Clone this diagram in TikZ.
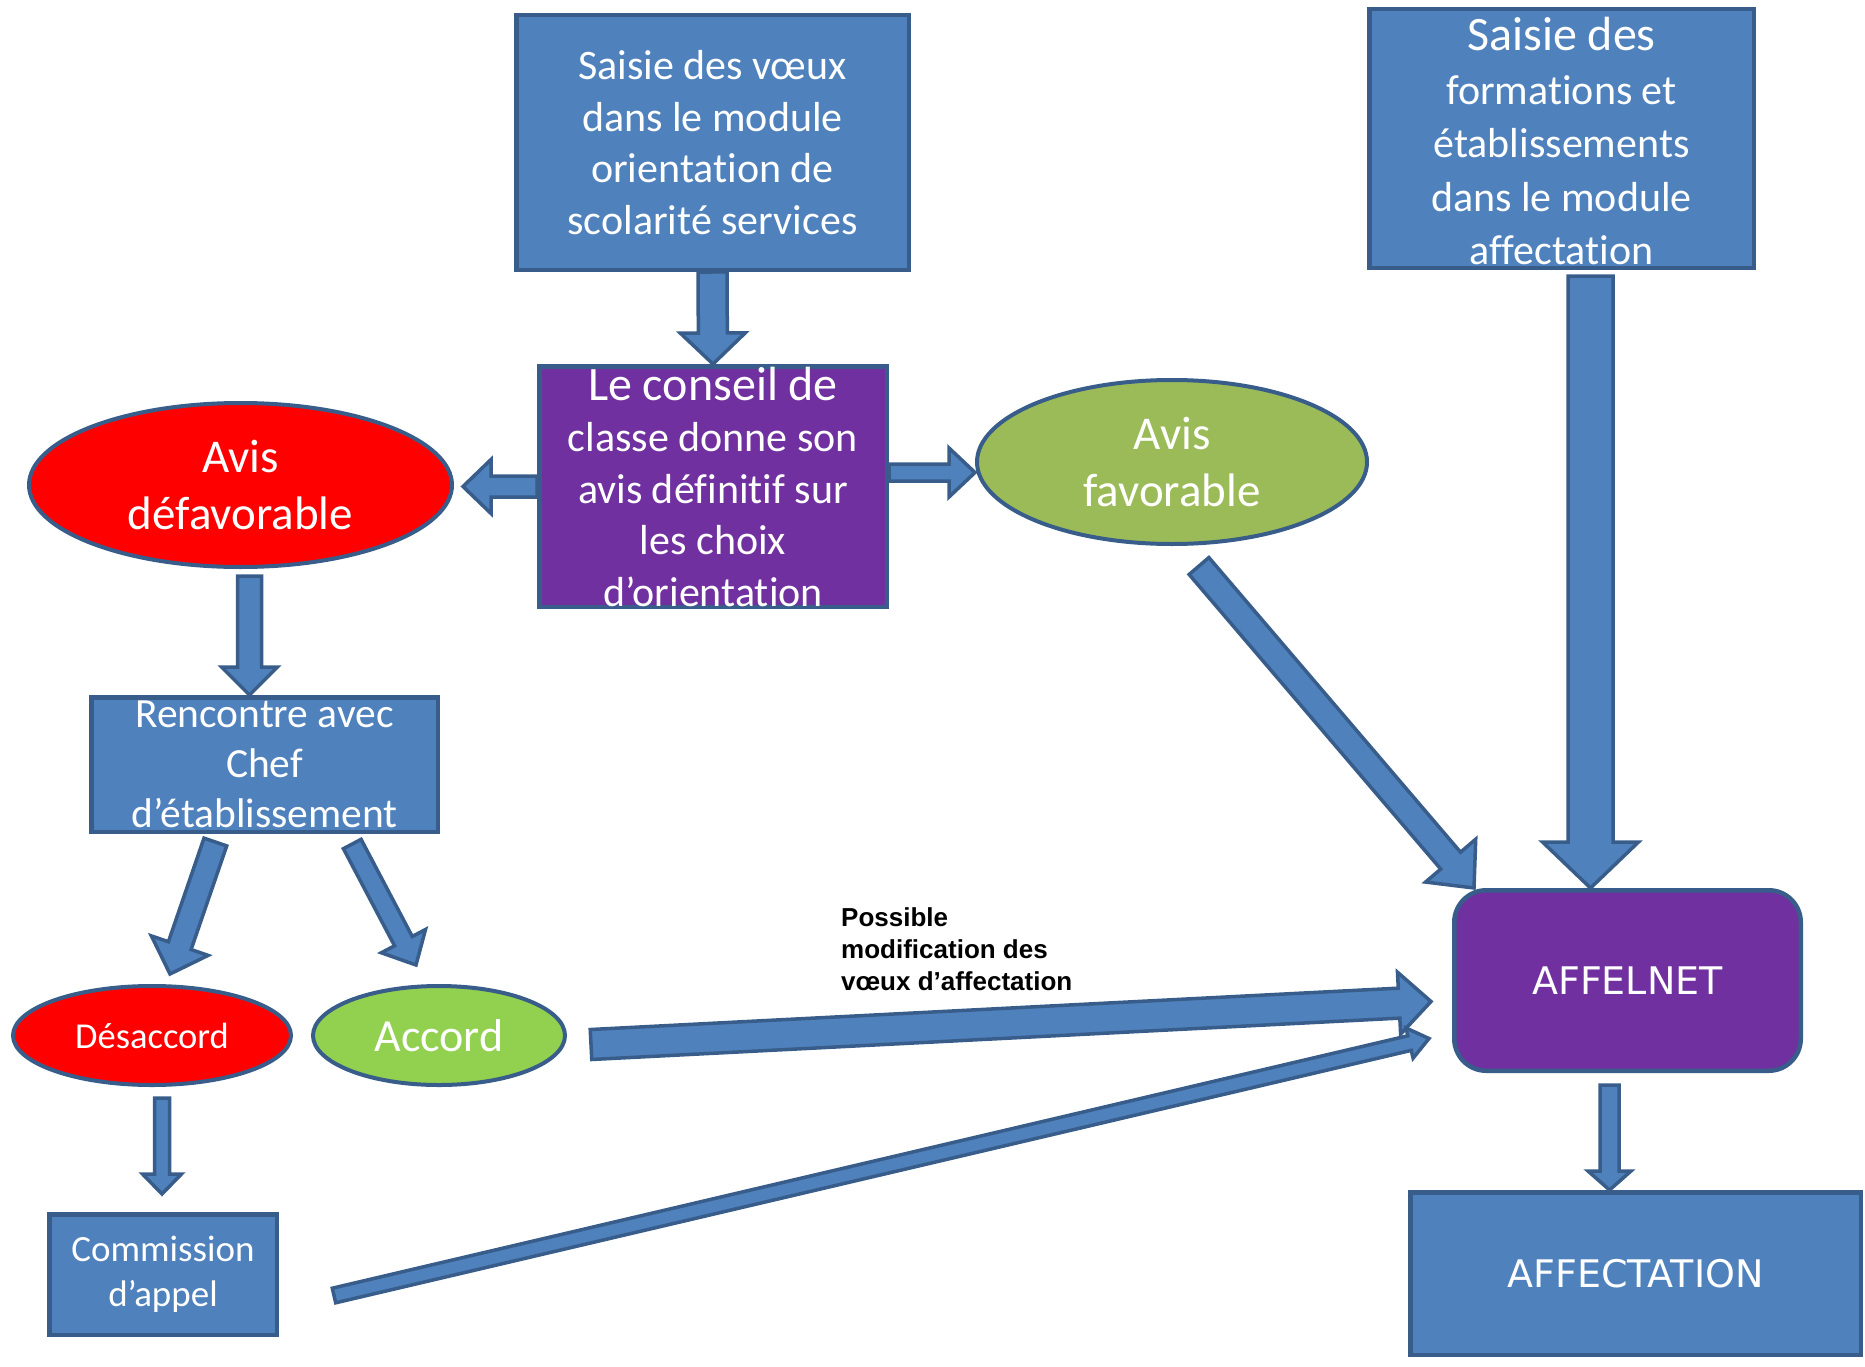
\documentclass[tikz,border=0pt]{standalone}
\usepackage{fontspec}
\setmainfont{Carlito}[Ligatures=CommonOff]
\newfontfamily\boxfont{DejaVu Sans}
\newfontfamily\notefont{Liberation Sans}
\usepackage{tikz}
\usetikzlibrary{calc,positioning,shapes}
\definecolor{boxblue}{HTML}{4F81BD}
\definecolor{edgeblue}{HTML}{385D8A}
\definecolor{avispurple}{HTML}{7030A0}
\definecolor{avisgreen}{HTML}{9BBB59}
\definecolor{accgreen}{HTML}{92D050}
% block arrow: from, to, half shaft, half head, head length
\newcommand{\fatarrow}[5]{%
  \coordinate (fa-s) at (#1);
  \coordinate (fa-t) at (#2);
  \coordinate (fa-b) at ($(fa-t)!#5pt!(fa-s)$);
  \draw[fatarr] ($(fa-s)!#3pt!90:(fa-t)$) -- ($(fa-b)!#3pt!-90:(fa-s)$) -- ($(fa-b)!#4pt!-90:(fa-s)$)
    -- (fa-t) -- ($(fa-b)!#4pt!90:(fa-s)$) -- ($(fa-b)!#3pt!90:(fa-s)$) -- ($(fa-s)!#3pt!-90:(fa-t)$) -- cycle;}
\newcommand{\bigline}[1]{{\fontsize{48}{57}\selectfont #1}}

\begin{document}
\begin{tikzpicture}[x=1pt,y=-1pt,
    bluebox/.style={draw=edgeblue, line width=4.5pt, fill=boxblue, text=white, inner sep=0pt, align=center,
      font=\fontsize{42}{51.5}\selectfont},
    avis/.style={ellipse, draw=edgeblue, line width=4pt, text=white, inner sep=0pt, align=center},
    fatarr/.style={draw=edgeblue, line width=3.5pt, fill=boxblue, line join=miter}]
  \useasboundingbox (0,0) rectangle (1865,1367);

  \node[bluebox, minimum width=392.5pt, minimum height=254.5pt] (saisie) at (712.5,142.5)
    {Saisie des vœux\\dans le module\\orientation de\\scolarité services};
  \node[bluebox, minimum width=384.5pt, minimum height=258.5pt, font=\fontsize{42}{53.5}\selectfont] (formations) at (1561.5,138.5)
    {\rule{0pt}{39pt}\bigline{Saisie des}\\formations et\\établissements\\dans le module\\affectation};
  \node[bluebox, fill=avispurple, minimum width=347.5pt, minimum height=240.5pt] (conseil) at (713,486.5)
    {\bigline{Le conseil de}\\classe donne son\\avis définitif sur\\les choix\\d’orientation};
  \node[avis, fill=red, minimum width=423pt, minimum height=164pt, font=\fontsize{47}{56}\selectfont] (defav) at (240.5,485)
    {Avis\\défavorable};
  \node[avis, fill=avisgreen, minimum width=390pt, minimum height=164pt, font=\fontsize{47}{56}\selectfont] (favorable) at (1172,462)
    {Avis\\favorable};
  \node[bluebox, minimum width=346.5pt, minimum height=134.5pt, font=\fontsize{41.5}{50}\selectfont] (rencontre) at (264.5,764.5)
    {Rencontre avec\\Chef\\d’établissement};
  \node[avis, fill=red, minimum width=278pt, minimum height=99pt, font=\fontsize{36.5}{44}\selectfont] (desaccord) at (152,1035.5)
    {Désaccord};
  \node[avis, fill=accgreen, minimum width=252pt, minimum height=99pt, font=\fontsize{46}{55}\selectfont] (accord) at (439,1035.5)
    {Accord};
  \node[bluebox, minimum width=227.5pt, minimum height=120.5pt, font=\fontsize{37}{45}\selectfont] (commission) at (163,1274.5)
    {Commission\\d’appel};
  \node[bluebox, fill=avispurple, rounded corners=32pt, minimum width=346.5pt, minimum height=180.5pt,
    font=\boxfont\fontsize{38}{46}\selectfont] (affelnet) at (1627.5,980.5) {AFFELNET};
  \node[bluebox, minimum width=450.5pt, minimum height=162.5pt, font=\boxfont\fontsize{38}{46}\selectfont] (affectation) at (1635.5,1273.5)
    {AFFECTATION};
  \node[anchor=north west, align=left, inner sep=0pt, font=\notefont\bfseries\fontsize{26}{32}\selectfont] (modif) at (841,907)
    {Possible\\modification des\\vœux d’affectation};

  % arrows
  \fatarrow{saisie.south}{conseil.north}{14.5}{32.5}{31}
  \fatarrow{conseil.west}{$(conseil.west -| defav.east)+(9,0)$}{10.5}{27}{28}
  \coordinate (cr) at ($(conseil.east)+(0,-14)$);
  \fatarrow{cr}{cr -| favorable.west}{8.5}{24.5}{26}
  \coordinate (dr) at ($(defav.south)+(9,7)$);
  \fatarrow{dr}{dr |- rencontre.north}{12}{28}{28}
  \fatarrow{$(rencontre.south west)!0.36!(rencontre.south east)+(0,8)$}{$(desaccord.north)+(18,-10)$}{12}{30}{30}
  \fatarrow{$(rencontre.south west)!0.75!(rencontre.south east)+(0,10)$}{$(accord.north)+(-23,-19)$}{10}{25}{27}
  \coordinate (dd) at ($(desaccord.south)+(10,11)$);
  \fatarrow{dd}{$(dd |- commission.north)+(0,-18)$}{7.5}{19.5}{20}
  \fatarrow{$(favorable.south)+(27,20)$}{$(affelnet.north west)+(22,0)$}{13}{33}{36}
  \coordinate (fr) at ($(formations.south)+(29,6)$);
  \fatarrow{fr}{fr |- affelnet.north}{22.5}{48}{46}
  \fatarrow{$(accord.east)+(24,9)$}{$(affelnet.west)+(-21,21)$}{15}{31}{32}
  \fatarrow{$(commission.east)+(55,21)$}{$(affelnet.west)+(-23,58)$}{7.5}{15.5}{20}
  \coordinate (ar) at ($(affelnet.south)+(-18,12)$);
  \fatarrow{ar}{ar |- affectation.north}{9.5}{21.5}{19}
\end{tikzpicture}
\end{document}
